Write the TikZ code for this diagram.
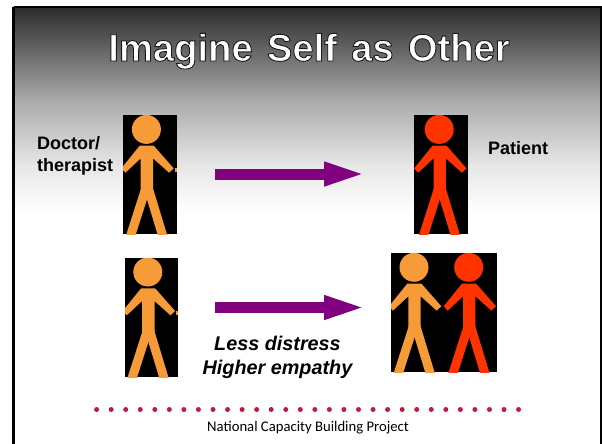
\documentclass[tikz,border=0pt]{standalone}
\usepackage{fontspec}
\setmainfont{Liberation Sans}
\newfontfamily\footfont{Carlito}
\usepackage{xcolor}
\usetikzlibrary{arrows.meta}
\definecolor{manorange}{HTML}{F79A38}
\definecolor{manred}{HTML}{FF3300}
\definecolor{arrowpurple}{HTML}{800080}
\definecolor{dotred}{HTML}{C8173E}
\definecolor{skydark}{HTML}{2B2B2B}
\definecolor{skymid}{HTML}{AAAAAA}
\definecolor{skylight}{HTML}{E6E6E6}
\newcommand{\outlined}[1]{\special{pdf:literal q 2 Tr 0.9 w 0.1 0.1 0.1 RG}#1\special{pdf:literal Q}}
\tikzset{
  blackbox/.style={fill=black,inner sep=0pt,minimum width=#1,minimum height=119pt},
  bigarrow/.style={line width=11pt,arrowpurple,-{Triangle[length=44pt,width=21pt]}},
  sidetext/.style={font=\fontsize{18}{22}\selectfont\bfseries,align=left,anchor=base west,inner sep=0pt},
  boldtext/.style={anchor=base,inner sep=0pt,font=\fontsize{19.8}{24}\selectfont\bfseries\itshape},
  pics/stickman/.style={code={
    \path[fill=#1] (0,0) circle (14.5);
    % arms and trunk as one outline
    \path[fill=#1] (-6.7,16.3) -- (7.3,16.3) -- (27.3,39) -- (22.7,43.3) -- (6.7,29) -- (6.7,60)
      -- (-5.7,60) -- (-5.7,29) -- (-21,43.3) -- (-25,39) -- cycle;
    \draw[#1,line width=9pt] (0.7,55) -- (-17.6,112);
    \draw[#1,line width=9pt] (0.7,55) -- (18,112);
  }}
}
\begin{document}
\begin{tikzpicture}[x=1pt,y=-1pt]
  \useasboundingbox (0,0) rectangle (602,444);
  \shade[top color=skydark,bottom color=skymid] (13.5,7) rectangle (601,100.2);
  \shade[top color=skymid,bottom color=skylight] (13.5,100) rectangle (601,165.2);
  \shade[top color=skylight,bottom color=white] (13.5,165) rectangle (601,212);
  \draw[line width=2.5pt] (13.5,7) -- (601,7) -- (601,450);
  \draw[line width=2.5pt] (13.5,7) -- (13.5,450);

  \node[anchor=base,inner sep=0pt,white,font=\fontsize{38.2}{44}\selectfont\bfseries] (title) at (309,61)
    {\outlined{Imagine\hspace{3.6pt} Self\hspace{3.6pt} as\hspace{3.6pt} Other}};

  % black boxes behind the men
  \node[blackbox=54pt] (doctorbox) at (150,174.5) {};
  \node[blackbox=54pt] (patientbox) at (441,174.5) {};
  \node[blackbox=53pt] (selfbox) at (151.5,317.5) {};
  \node[blackbox=106pt] (pairbox) at (444,312.5) {};

  \begin{scope}
    \clip (123,115) rectangle (177,234);
    \pic at (146.4,129.4) {stickman=manorange};
    \draw[manorange,line width=3pt] (176.5,167.5) -- (176.5,172);
  \end{scope}
  \begin{scope}
    \clip (414,115) rectangle (468,234);
    \pic at (439.2,129.4) {stickman=manred};
  \end{scope}
  \begin{scope}
    \clip (125,258) rectangle (178,377);
    \pic at (147.8,272) {stickman=manorange};
    \draw[manorange,line width=3pt] (177.5,310.5) -- (177.5,315);
  \end{scope}
  \begin{scope}
    \clip (391,253) rectangle (497,372);
    \pic at (414,267.3) {stickman=manorange};
    \pic at (468.7,267.3) {stickman=manred};
  \end{scope}

  \node[sidetext] (doctor) at (37,149) {Doctor/};
  \node[sidetext] (therapist) at (37,171) {therapist};
  \node[sidetext] (patient) at (488,154) {Patient};

  \coordinate (arrowastart) at (215,174);
  \coordinate (arrowaend) at (368,174);
  \coordinate (arrowbstart) at (215,307.5);
  \coordinate (arrowbend) at (368,307.5);
  \draw[bigarrow] (arrowastart) -- (arrowaend);
  \draw[bigarrow] (arrowbstart) -- (arrowbend);

  \node[boldtext] (distress) at (277.5,350) {Less distress};
  \node[boldtext] (empathy) at (277.5,374) {Higher empathy};

  \foreach \i in {0,...,29}
    \path[fill=dotred] (96.6+14.55*\i,409.5) circle (2.5);

  \node[anchor=base,inner sep=0pt,font=\fontsize{14.7}{16}\selectfont\footfont] (footer) at (308,431) {National Capacity Building Project};
\end{tikzpicture}
\end{document}
